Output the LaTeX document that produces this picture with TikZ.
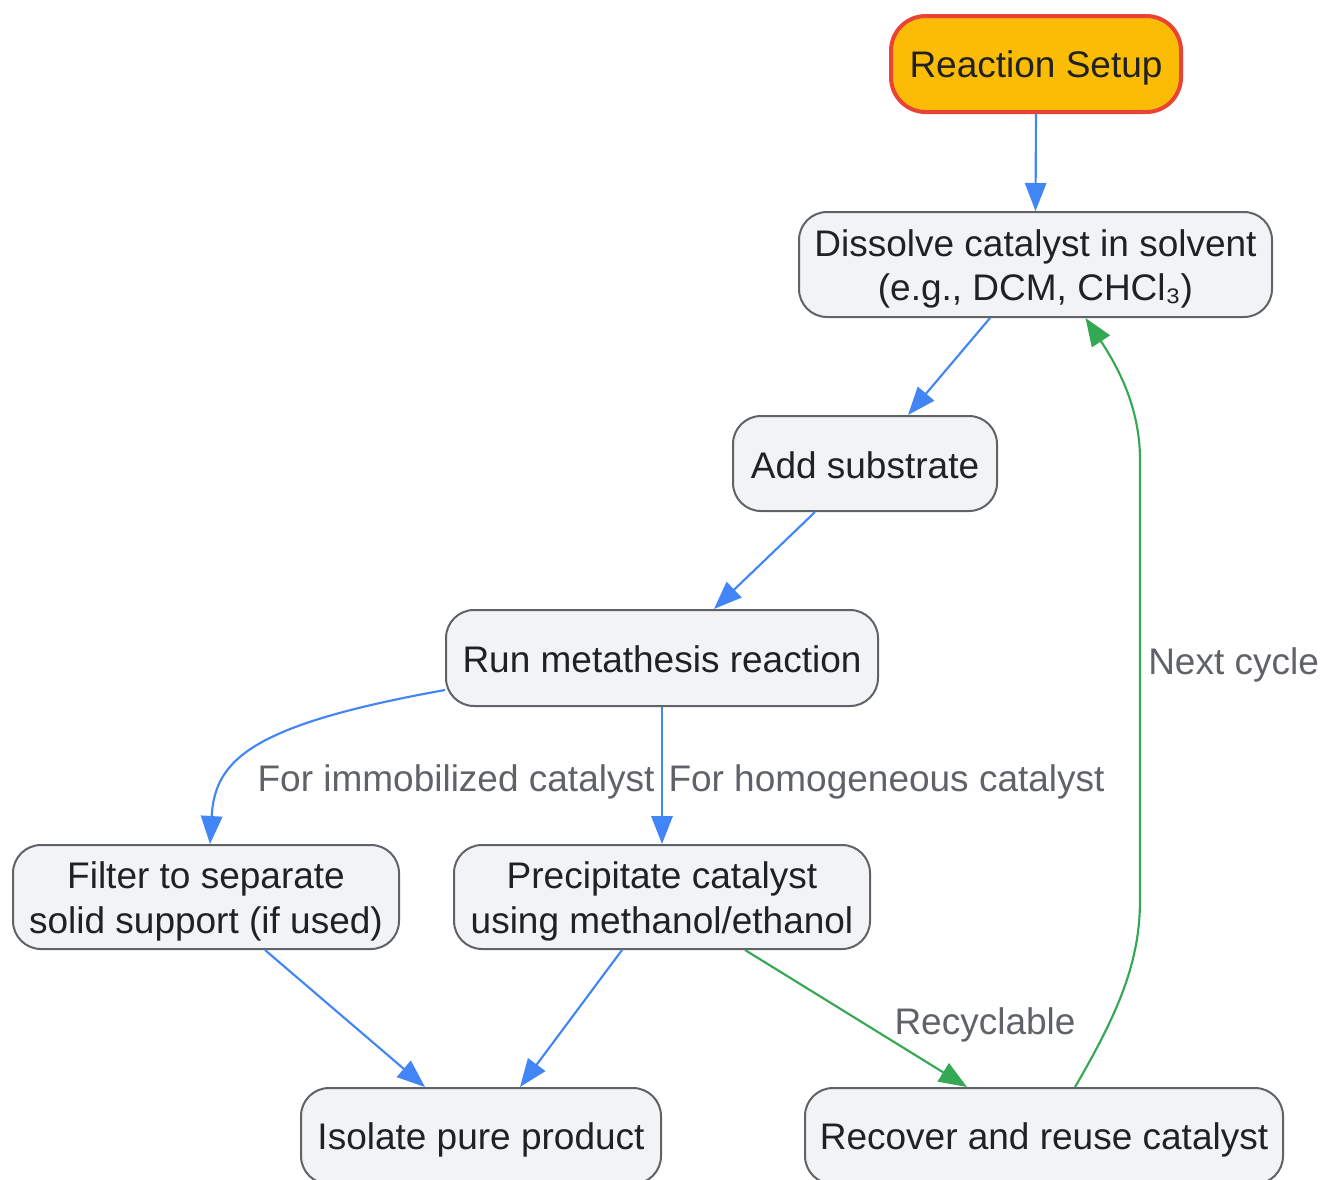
\documentclass[tikz,border=0pt]{standalone}
\usepackage{fontspec}
\setmainfont{Liberation Sans}
\usetikzlibrary{arrows.meta,calc}
\definecolor{cblue}{HTML}{4285F4}
\definecolor{cgreen}{HTML}{34A853}
\definecolor{cred}{HTML}{EA4335}
\definecolor{cyellow}{HTML}{FBBC05}
\definecolor{cfill}{HTML}{F1F3F4}
\definecolor{cborder}{HTML}{5F6368}
\definecolor{ctext}{HTML}{202124}
\definecolor{clabel}{HTML}{5F6368}
\newcommand{\ms}{\rule[-0.158em]{0pt}{1.117em}}
\begin{document}
\begin{tikzpicture}[x=0.75pt,y=-0.75pt,
  every node/.style={font=\fontsize{27.75pt}{31.5pt}\selectfont},
  stepbox/.style={draw=cborder,fill=cfill,line width=1.5pt,rounded corners=21pt,
    inner sep=0pt,align=center,text=ctext},
  startbox/.style={draw=cred,fill=cyellow,line width=3pt,rounded corners=26pt,
    inner sep=0pt,align=center,text=ctext},
  flow/.style={draw=cblue,line width=1.6pt,-{Triangle[length=21pt,width=16pt]}},
  gflow/.style={draw=cgreen,line width=1.6pt,-{Triangle[length=21pt,width=16pt]}},
  elabel/.style={text=clabel,inner sep=0pt}]
\useasboundingbox (0,0) rectangle (1321,1179);
\node[startbox,minimum width=217.5pt,minimum height=72pt] (setup) at (1036,64) {\ms Reaction Setup};
\node[stepbox,minimum width=354.75pt,minimum height=78.75pt] (dissolve) at (1035.5,264.5) {\ms Dissolve catalyst in solvent\\\ms(e.g., DCM, CHCl₃)};
\node[stepbox,minimum width=198pt,minimum height=71.25pt] (add) at (865,463.5) {\ms Add substrate};
\node[stepbox,minimum width=324pt,minimum height=72pt] (run) at (662,658) {\ms Run metathesis reaction};
\node[stepbox,minimum width=289.5pt,minimum height=78pt] (filter) at (206,897) {\ms Filter to separate\\\ms solid support (if used)};
\node[stepbox,minimum width=312pt,minimum height=78pt] (precip) at (662,897) {\ms Precipitate catalyst\\\ms using methanol/ethanol};
\node[stepbox,minimum width=270pt,minimum height=72pt] (isolate) at (481,1136) {\ms Isolate pure product};
\node[stepbox,minimum width=358.5pt,minimum height=72pt] (recover) at (1044,1136) {\ms Recover and reuse catalyst};

\draw[flow] (setup.south) -- (dissolve.north);
\draw[flow] ($(dissolve.south)+(-45.5,0)$) -- ($(add.north)+(43,0)$);
\draw[flow] ($(add.south)+(-50,0)$) -- ($(run.north)+(52,0)$);
\draw[flow] ($(run.west)+(0,32)$) .. controls (250,725) and (215,760) .. ($(filter.north)+(4,0)$);
\draw[flow] (run.south) -- (precip.north);
\draw[flow] ($(filter.south)+(59,0)$) -- ($(isolate.north)+(-56,0)$);
\draw[flow] ($(precip.south)+(-40,0)$) -- ($(isolate.north)+(39,0)$);
\draw[gflow] ($(precip.south)+(83,0)$) -- ($(recover.north)+(-77,0)$);
\draw[gflow] ($(recover.north)+(31,0)$) .. controls (1120,1010) and (1140,960) .. (1140,900) -- (1140,460) .. controls (1140,410) and (1120,370) .. ($(dissolve.south)+(50,0)$);

\node[elabel] (l1) at (456,778) {\ms For immobilized catalyst};
\node[elabel] (l2) at (886.5,778) {\ms For homogeneous catalyst};
\node[elabel] (l3) at (985,1021) {\ms Recyclable};
\node[elabel,anchor=west] (l4) at (1148,661) {\ms Next cycle};
\end{tikzpicture}
\end{document}
